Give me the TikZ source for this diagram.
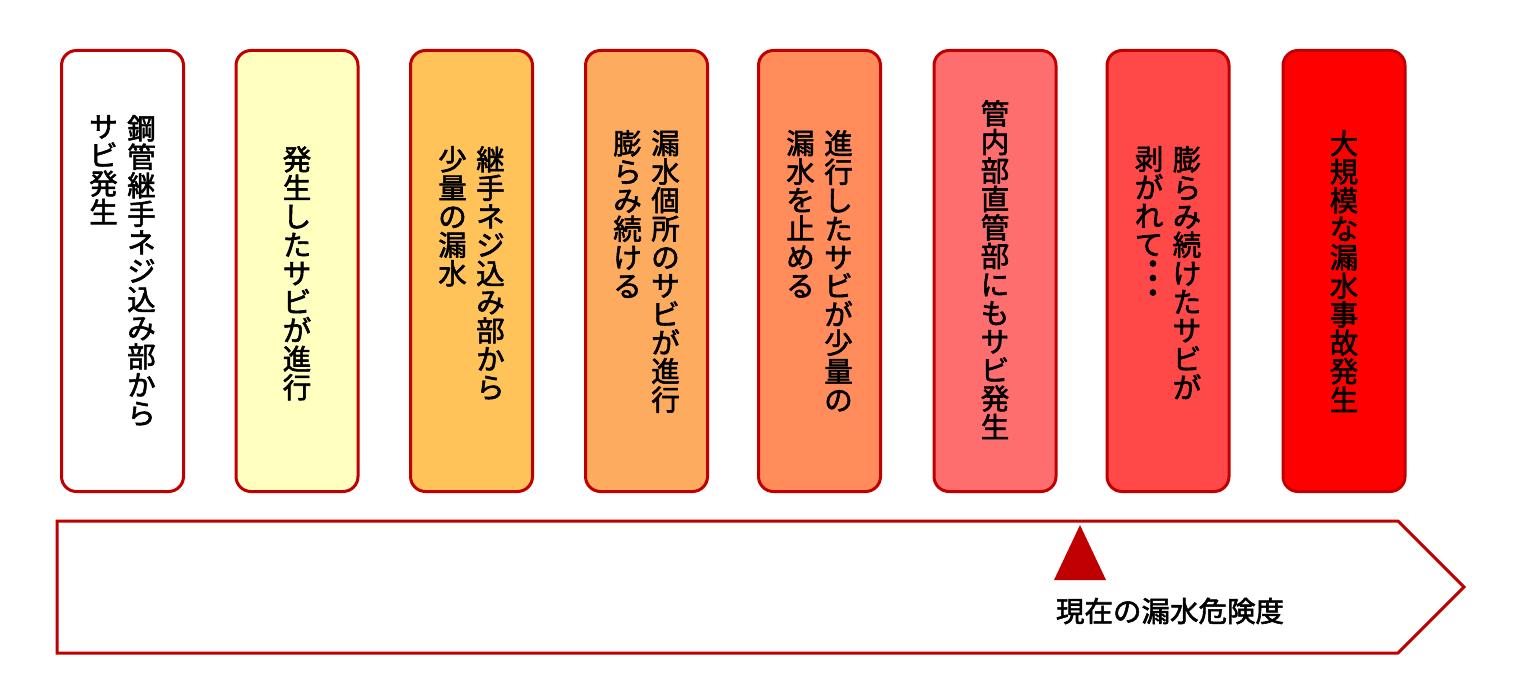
\documentclass[tikz,border=0pt]{standalone}
\usepackage{fontspec}
\usepackage{xcolor}
\usetikzlibrary{
    shapes.symbols,
    positioning
}
\newfontfamily\jpfont[FakeBold=2]{Noto Sans CJK JP}
\definecolor{riskred}{HTML}{C00000}
\definecolor{level1}{HTML}{FFFFFF}
\definecolor{level2}{HTML}{FFFFC0}
\definecolor{level3}{HTML}{FFC35A}
\definecolor{level4}{HTML}{FDAB5F}
\definecolor{level5}{HTML}{FF8C5A}
\definecolor{level6}{HTML}{FF6E6E}
\definecolor{level7}{HTML}{FF4848}
\definecolor{level8}{HTML}{FF0000}
\tikzset{
    % Stage box style
    stagebox/.style={
        rectangle,
        rounded corners=15pt,
        minimum width=122pt,
        minimum height=441pt,
        draw=riskred,
        fill=#1,
        line width=3pt
    },
    % Vertical text column
    tatetext/.style={
        font=\jpfont\fontsize{28.5}{28.5}\selectfont,
        align=center,
        anchor=north,
        inner sep=0pt
    },
    % Risk scale arrow
    riskscale/.style={
        signal,
        signal to=east,
        signal pointer angle=90,
        draw=riskred,
        fill=white,
        line width=3pt,
        inner sep=0pt
    }
}
\begin{document}
\begin{tikzpicture}[x=1pt, y=-1pt]
        \useasboundingbox (0,0) rectangle (1522,684);

        % Stages
        \node[stagebox=level1] (s1) at (122.5, 271) {};
        \node[tatetext] (s1a) at (141.5, 115) {鋼\\管\\継\\手\\ネ\\ジ\\込\\み\\部\\か\\ら};
        \node[tatetext] (s1b) at (103.5, 115) {サ\\ビ\\発\\生};

        \node[stagebox=level2] (s2) at (297, 271) {};
        \node[tatetext] (s2a) at (297, 146) {発\\生\\し\\た\\サ\\ビ\\が\\進\\行};

        \node[stagebox=level3] (s3) at (471.5, 271) {};
        \node[tatetext] (s3a) at (490.5, 146) {継\\手\\ネ\\ジ\\込\\み\\部\\か\\ら};
        \node[tatetext] (s3b) at (452.5, 146) {少\\量\\の\\漏\\水};

        \node[stagebox=level4] (s4) at (646.5, 271) {};
        \node[tatetext] (s4a) at (665.5, 130) {漏\\水\\個\\所\\の\\サ\\ビ\\が\\進\\行};
        \node[tatetext] (s4b) at (627.5, 130) {膨\\ら\\み\\続\\け\\る};

        \node[stagebox=level5] (s5) at (819.5, 271) {};
        \node[tatetext] (s5a) at (838.5, 130) {進\\行\\し\\た\\サ\\ビ\\が\\少\\量\\の};
        \node[tatetext] (s5b) at (800.5, 130) {漏\\水\\を\\止\\め\\る};

        \node[stagebox=level6] (s6) at (995, 271) {};
        \node[tatetext] (s6a) at (995, 100) {管\\内\\部\\直\\管\\部\\に\\も\\サ\\ビ\\発\\生};

        \node[stagebox=level7] (s7) at (1168, 271) {};
        \node[tatetext] (s7a) at (1187, 146) {膨\\ら\\み\\続\\け\\た\\サ\\ビ\\が};
        \node[tatetext] (s7b) at (1149, 146) {剥\\が\\れ\\て};
        \node[tatetext, anchor=center, rotate=-90] (s7c) at (1149, 278) {・\kern-14pt・\kern-14pt・};

        \node[stagebox=level8] (s8) at (1344, 271) {};
        \node[tatetext] (s8a) at (1344, 130) {大\\規\\模\\な\\漏\\水\\事\\故\\発\\生};

        % Risk scale
        \node[riskscale, minimum width=1407pt, minimum height=132pt] (scale) at (727.5, 587) {};
        \fill[riskred] (1054, 580) -- (1080, 525) -- (1106, 580) -- cycle;
        \node[font=\jpfont\fontsize{28.5}{28.5}\selectfont, inner sep=0pt] (now) at (1170, 611) {現在の漏水危険度};

    \end{tikzpicture}
\end{document}
